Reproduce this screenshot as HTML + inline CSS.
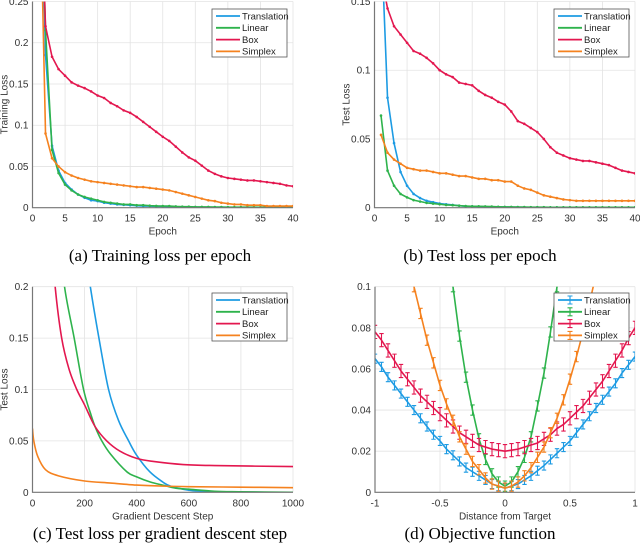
<!DOCTYPE html>
<html><head><meta charset="utf-8"><style>
html,body{margin:0;padding:0;background:#fff;}
svg{display:block;font-family:"Liberation Sans",sans-serif;}
.cap{font-family:"Liberation Serif",serif;font-size:17px;fill:#000;}
.tk{font-size:10px;fill:#333;}
.lt{font-size:9.5px;fill:#222;}
</style></head><body>
<svg id="fig" width="640" height="550" viewBox="0 0 640 550"></svg>
<script>
// ---- Panel (a) training loss per epoch ----
const epochsA = [1,2,3,4,5,6,7,8,9,10,11,12,13,14,15,16,17,18,19,20,21,22,23,24,25,26,27,28,29,30,31,32,33,34,35,36,37,38,39,40];
const aTranslation = [0.5,0.185,0.075,0.045,0.03,0.022,0.016,0.012,0.009,0.008,0.006,0.005,0.004,0.0035,0.003,0.0025,0.002,0.002,0.0015,0.0015,0.001,0.001,0.001,0.0008,0.0007,0.0006,0.0005,0.0005,0.0004,0.0004,0.0004,0.0003,0.0003,0.0003,0.0003,0.0002,0.0002,0.0002,0.0002,0.0002];
const aLinear = [0.5,0.215,0.07,0.042,0.028,0.021,0.016,0.013,0.011,0.009,0.007,0.006,0.005,0.004,0.004,0.003,0.003,0.0025,0.0022,0.002,0.002,0.0015,0.0013,0.0012,0.001,0.001,0.0009,0.0008,0.0008,0.0007,0.0007,0.0006,0.0006,0.0006,0.0005,0.0005,0.0005,0.0005,0.0005,0.0005];
const aBox = [0.45,0.22,0.183,0.168,0.16,0.152,0.148,0.145,0.141,0.136,0.133,0.127,0.123,0.118,0.115,0.11,0.104,0.098,0.092,0.086,0.081,0.074,0.067,0.061,0.057,0.051,0.045,0.041,0.038,0.036,0.035,0.034,0.033,0.033,0.032,0.031,0.030,0.029,0.027,0.026];
const aSimplex = [0.45,0.09,0.06,0.05,0.043,0.039,0.036,0.034,0.032,0.031,0.030,0.029,0.028,0.027,0.026,0.025,0.025,0.024,0.023,0.022,0.021,0.019,0.017,0.015,0.013,0.011,0.009,0.008,0.006,0.005,0.004,0.004,0.003,0.003,0.003,0.002,0.002,0.002,0.002,0.002];
const aXTicks = [0,5,10,15,20,25,30,35,40];
const aYTicks = [0,0.05,0.1,0.15,0.2,0.25];
const aYTickLabels = ["0","0.05","0.1","0.15","0.2","0.25"];

// ---- Panel (b) test loss per epoch ----
const epochsB = epochsA;
const bTranslation = [0.2,0.08,0.047,0.026,0.016,0.01,0.007,0.005,0.004,0.003,0.0025,0.002,0.0015,0.001,0.001,0.0008,0.0007,0.0006,0.0005,0.0005,0.0004,0.0004,0.0003,0.0003,0.0003,0.0002,0.0002,0.0002,0.0002,0.0002,0.0002,0.0001,0.0001,0.0001,0.0001,0.0001,0.0001,0.0001,0.0001,0.0001];
const bLinear = [0.067,0.027,0.016,0.01,0.0075,0.0055,0.0045,0.0035,0.003,0.0025,0.002,0.0018,0.0015,0.0012,0.001,0.001,0.0009,0.0008,0.0007,0.0006,0.0006,0.0005,0.0005,0.0004,0.0004,0.0004,0.0003,0.0003,0.0003,0.0003,0.0003,0.0003,0.0003,0.0003,0.0003,0.0003,0.0003,0.0003,0.0003,0.0003];
const bBox = [0.17,0.145,0.132,0.126,0.12,0.114,0.112,0.109,0.105,0.1,0.097,0.095,0.091,0.09,0.089,0.085,0.082,0.08,0.077,0.075,0.07,0.063,0.061,0.058,0.055,0.05,0.044,0.04,0.038,0.036,0.035,0.034,0.034,0.033,0.032,0.031,0.029,0.027,0.026,0.025];
const bSimplex = [0.053,0.04,0.035,0.032,0.029,0.028,0.027,0.027,0.026,0.025,0.025,0.024,0.023,0.023,0.022,0.021,0.021,0.020,0.020,0.019,0.019,0.016,0.014,0.013,0.011,0.009,0.008,0.007,0.006,0.0055,0.005,0.005,0.005,0.005,0.005,0.005,0.005,0.005,0.005,0.005];
const bXTicks = [0,5,10,15,20,25,30,35,40];
const bYTicks = [0,0.05,0.1,0.15];
const bYTickLabels = ["0","0.05","0.1","0.15"];

// ---- Panel (c) test loss per gradient descent step ----
const cTransX = [200,222,255,292,330,369,400,450,500,530,600,650,700,800,1000];
const cTransY = [0.24,0.2,0.15,0.1,0.07,0.05,0.036,0.02,0.01,0.006,0.002,0.001,0.0003,0.0001,0];
const cLinX = [100,123,160,196,225,240,266,300,362,400,452,500,550,600,700,800,1000];
const cLinY = [0.26,0.2,0.15,0.1,0.075,0.064,0.05,0.037,0.02,0.015,0.01,0.007,0.004,0.003,0.001,0.0005,0];
const cBoxX = [70,87,112,140,170,200,240,285,336,400,464,578,700,1000];
const cBoxY = [0.26,0.2,0.15,0.12,0.1,0.085,0.064,0.05,0.04,0.033,0.03,0.027,0.026,0.025];
const cSimX = [0,5,20,50,100,200,300,400,500,600,800,1000];
const cSimY = [0.062,0.05,0.035,0.022,0.016,0.011,0.009,0.007,0.006,0.0055,0.005,0.0045];
const cXTicks = [0,200,400,600,800,1000];
const cYTicks = [0,0.05,0.1,0.15,0.2];
const cYTickLabels = ["0","0.05","0.1","0.15","0.2"];

// ---- Panel (d) objective function ----
const dX = [-1,-0.95,-0.9,-0.85,-0.8,-0.75,-0.7,-0.65,-0.6,-0.55,-0.5,-0.45,-0.4,-0.35,-0.3,-0.25,-0.2,-0.15,-0.1,-0.05,0,0.05,0.1,0.15,0.2,0.25,0.3,0.35,0.4,0.45,0.5,0.55,0.6,0.65,0.7,0.75,0.8,0.85,0.9,0.95,1];
const dTranslation = [0.065,0.061,0.056,0.052,0.048,0.044,0.040,0.036,0.032,0.028,0.025,0.021,0.018,0.015,0.012,0.010,0.008,0.006,0.004,0.003,0.002,0.003,0.004,0.006,0.008,0.0105,0.013,0.016,0.019,0.022,0.025,0.029,0.033,0.037,0.041,0.045,0.049,0.053,0.058,0.062,0.066];
const dBox = [0.078,0.074,0.069,0.064,0.059,0.055,0.051,0.047,0.044,0.041,0.038,0.035,0.032,0.029,0.027,0.025,0.023,0.022,0.021,0.0205,0.020,0.0205,0.021,0.022,0.023,0.024,0.026,0.028,0.031,0.033,0.036,0.039,0.042,0.046,0.050,0.054,0.059,0.064,0.069,0.075,0.080];
const dSimX = [-0.75,-0.7,-0.65,-0.6,-0.55,-0.5,-0.45,-0.4,-0.35,-0.3,-0.25,-0.2,-0.15,-0.1,-0.05,0,0.05,0.1,0.15,0.2,0.25,0.3,0.35,0.4,0.45,0.5,0.55,0.6,0.65,0.7];
const dSimplex = [0.114,0.1,0.087,0.074,0.063,0.052,0.043,0.035,0.027,0.021,0.015,0.011,0.007,0.004,0.003,0.002,0.003,0.005,0.008,0.012,0.017,0.022,0.029,0.036,0.045,0.055,0.066,0.078,0.092,0.106];
const dLinX = [-0.45,-0.4,-0.35,-0.3,-0.25,-0.2,-0.15,-0.1,-0.05,0,0.05,0.1,0.15,0.2,0.25,0.3,0.35,0.4,0.45];
const dLinear = [0.122,0.1,0.076,0.056,0.04,0.026,0.016,0.009,0.005,0.003,0.005,0.01,0.017,0.027,0.042,0.058,0.078,0.1,0.124];
const dErrT = 0.0022, dErrB = 0.0032, dErrS = 0.0025, dErrL = 0.0025;
const dXTicks = [-1,-0.5,0,0.5,1];
const dXTickLabels = ["-1","-0.5","0","0.5","1"];
const dYTicks = [0,0.02,0.04,0.06,0.08,0.1];
const dYTickLabels = ["0","0.02","0.04","0.06","0.08","0.1"];

const COL = {t:"#1d9be3", l:"#2eb34c", b:"#e3174f", s:"#f5821f"};
const NS = "http://www.w3.org/2000/svg";
const svg = document.getElementById('fig');
let clipId = 0;
function mk(tag, attrs, parent){const e=document.createElementNS(NS,tag);for(const k in attrs)e.setAttribute(k,attrs[k]);(parent||svg).appendChild(e);return e;}
function smoothPath(P){
  let d='M'+P[0][0].toFixed(2)+','+P[0][1].toFixed(2);
  for(let i=0;i<P.length-1;i++){
    const p0=P[i-1]||P[i],p1=P[i],p2=P[i+1],p3=P[i+2]||p2;
    const c1=[p1[0]+(p2[0]-p0[0])/6,p1[1]+(p2[1]-p0[1])/6];
    const c2=[p2[0]-(p3[0]-p1[0])/6,p2[1]-(p3[1]-p1[1])/6];
    d+=`C${c1[0].toFixed(2)},${c1[1].toFixed(2)} ${c2[0].toFixed(2)},${c2[1].toFixed(2)} ${p2[0].toFixed(2)},${p2[1].toFixed(2)}`;
  }
  return d;
}

function panel(o){
  const g = mk('g',{});
  
  
  const sx = v => o.x0 + (v-o.xmin)/(o.xmax-o.xmin)*(o.x1-o.x0);
  const sy = v => o.y0 - (v-o.ymin)/(o.ymax-o.ymin)*(o.y0-o.y1);
  o.xt.forEach(v=>{const l=mk('line',{x1:sx(v),x2:sx(v),y1:o.y1,y2:o.y0,stroke:'#e3e3e3','stroke-width':0.8},g);
    });
  o.yt.forEach(v=>{const l=mk('line',{x1:o.x0,x2:o.x1,y1:sy(v),y2:sy(v),stroke:'#e3e3e3','stroke-width':0.8},g);
    });
  const cid='c'+(clipId++);
  const cp=mk('clipPath',{id:cid},g); mk('rect',{x:o.x0,y:o.y1,width:o.x1-o.x0,height:o.y0-o.y1},cp);
  const sg=mk('g',{'clip-path':'url(#'+cid+')'},g);
  o.series.forEach(s=>{
    const P=s.x.map((xv,i)=>[sx(xv),sy(s.y[i])]);
    const d=o.smooth?smoothPath(P):P.map((p,i)=>(i?'L':'M')+p[0].toFixed(2)+','+p[1].toFixed(2)).join('');
    const p=mk('path',{d:d,fill:'none',stroke:s.c,'stroke-width':1.6},sg);
    
    
    if(s.mark){s.x.forEach((xv,i)=>{const m=mk('circle',{cx:sx(xv),cy:sy(s.y[i]),r:1.3,fill:s.c},sg);
      });}
    if(s.err){s.x.forEach((xv,i)=>{const X=sx(xv),a=sy(s.y[i]-s.err),b=sy(s.y[i]+s.err);
      const e=mk('path',{d:`M${X},${a}L${X},${b}M${X-2.2},${a}L${X+2.2},${a}M${X-2.2},${b}L${X+2.2},${b}`,stroke:s.c,'stroke-width':1.1,fill:'none'},sg);
      });}
  });
  const ax=mk('path',{d:`M${o.x0},${o.y1}L${o.x0},${o.y0}L${o.x1},${o.y0}`,fill:'none',stroke:'#777','stroke-width':1.2},g);
  
  o.xt.forEach((v,i)=>{const t=mk('text',{x:sx(v),y:o.y0+14,'text-anchor':'middle',class:'tk'},g);t.textContent=o.xl?o.xl[i]:String(v);
    });
  o.yt.forEach((v,i)=>{const t=mk('text',{x:o.x0-4,y:sy(v)+3.5,'text-anchor':'end',class:'tk'},g);t.textContent=o.yl[i];
    });
  const xt=mk('text',{x:(o.x0+o.x1)/2,y:o.y0+27,'text-anchor':'middle',class:'tk'},g);xt.textContent=o.xtitle;
  
  const ytx=o.x0-25, yty=(o.y0+o.y1)/2;
  const yt=mk('text',{x:ytx,y:yty,'text-anchor':'middle',class:'tk',transform:`rotate(-90 ${ytx} ${yty})`},g);yt.textContent=o.ytitle;
  
  const lg=mk('g',{},g);
  
  mk('rect',{x:o.lx,y:o.ly,width:75,height:48,fill:'#fff',stroke:'#555','stroke-width':0.8},lg);
  o.series.forEach((s,i)=>{const yy=o.ly+7+i*11.8;
    const en=mk('g',{},lg);
    mk('line',{x1:o.lx+4,x2:o.lx+28,y1:yy,y2:yy,stroke:s.c,'stroke-width':1.8},en);
    if(s.err) mk('path',{d:`M${o.lx+16},${yy-4}L${o.lx+16},${yy+4}M${o.lx+13.5},${yy-4}L${o.lx+18.5},${yy-4}M${o.lx+13.5},${yy+4}L${o.lx+18.5},${yy+4}`,stroke:s.c,'stroke-width':1.1},en);
    const t=mk('text',{x:o.lx+30,y:yy+3.3,class:'lt'},en);t.textContent=s.n;});
  const c=mk('text',{x:o.capx,y:o.capy,'text-anchor':'middle',class:'cap'},g);c.textContent=o.cap;
  
}

panel({name:'chart-training-loss',x0:32.5,x1:293,y0:207.7,y1:1.5,xmin:0,xmax:40,ymin:0,ymax:0.25,xt:aXTicks,yt:aYTicks,yl:aYTickLabels,
  xtitle:'Epoch',ytitle:'Training Loss',lx:212,ly:9,capx:160,capy:261,cap:'(a) Training loss per epoch',
  series:[{n:'Translation',c:COL.t,x:epochsA,y:aTranslation,mark:1},{n:'Linear',c:COL.l,x:epochsA,y:aLinear,mark:1},
          {n:'Box',c:COL.b,x:epochsA,y:aBox,mark:1},{n:'Simplex',c:COL.s,x:epochsA,y:aSimplex,mark:1}]});
panel({name:'chart-test-loss-epoch',x0:374.5,x1:635,y0:207.7,y1:1.5,xmin:0,xmax:40,ymin:0,ymax:0.15,xt:bXTicks,yt:bYTicks,yl:bYTickLabels,
  xtitle:'Epoch',ytitle:'Test Loss',lx:554,ly:9,capx:480,capy:261,cap:'(b) Test loss per epoch',
  series:[{n:'Translation',c:COL.t,x:epochsB,y:bTranslation,mark:1},{n:'Linear',c:COL.l,x:epochsB,y:bLinear,mark:1},
          {n:'Box',c:COL.b,x:epochsB,y:bBox,mark:1},{n:'Simplex',c:COL.s,x:epochsB,y:bSimplex,mark:1}]});
panel({name:'chart-test-loss-step',smooth:1,x0:32.5,x1:293,y0:492.3,y1:286.7,xmin:0,xmax:1000,ymin:0,ymax:0.2,xt:cXTicks,yt:cYTicks,yl:cYTickLabels,
  xtitle:'Gradient Descent Step',ytitle:'Test Loss',lx:212,ly:293,capx:160,capy:539,cap:'(c) Test loss per gradient descent step',
  series:[{n:'Translation',c:COL.t,x:cTransX,y:cTransY},{n:'Linear',c:COL.l,x:cLinX,y:cLinY},
          {n:'Box',c:COL.b,x:cBoxX,y:cBoxY},{n:'Simplex',c:COL.s,x:cSimX,y:cSimY}]});
panel({name:'chart-objective-function',x0:375,x1:635,y0:492.3,y1:286.7,xmin:-1,xmax:1,ymin:0,ymax:0.1,xt:dXTicks,xl:dXTickLabels,yt:dYTicks,yl:dYTickLabels,
  xtitle:'Distance from Target',ytitle:'',lx:554,ly:293,capx:480,capy:539,cap:'(d) Objective function',
  series:[{n:'Translation',c:COL.t,x:dX,y:dTranslation,err:dErrT},{n:'Linear',c:COL.l,x:dLinX,y:dLinear,err:dErrL},
          {n:'Box',c:COL.b,x:dX,y:dBox,err:dErrB},{n:'Simplex',c:COL.s,x:dSimX,y:dSimplex,err:dErrS}]});
</script>
</body></html>
